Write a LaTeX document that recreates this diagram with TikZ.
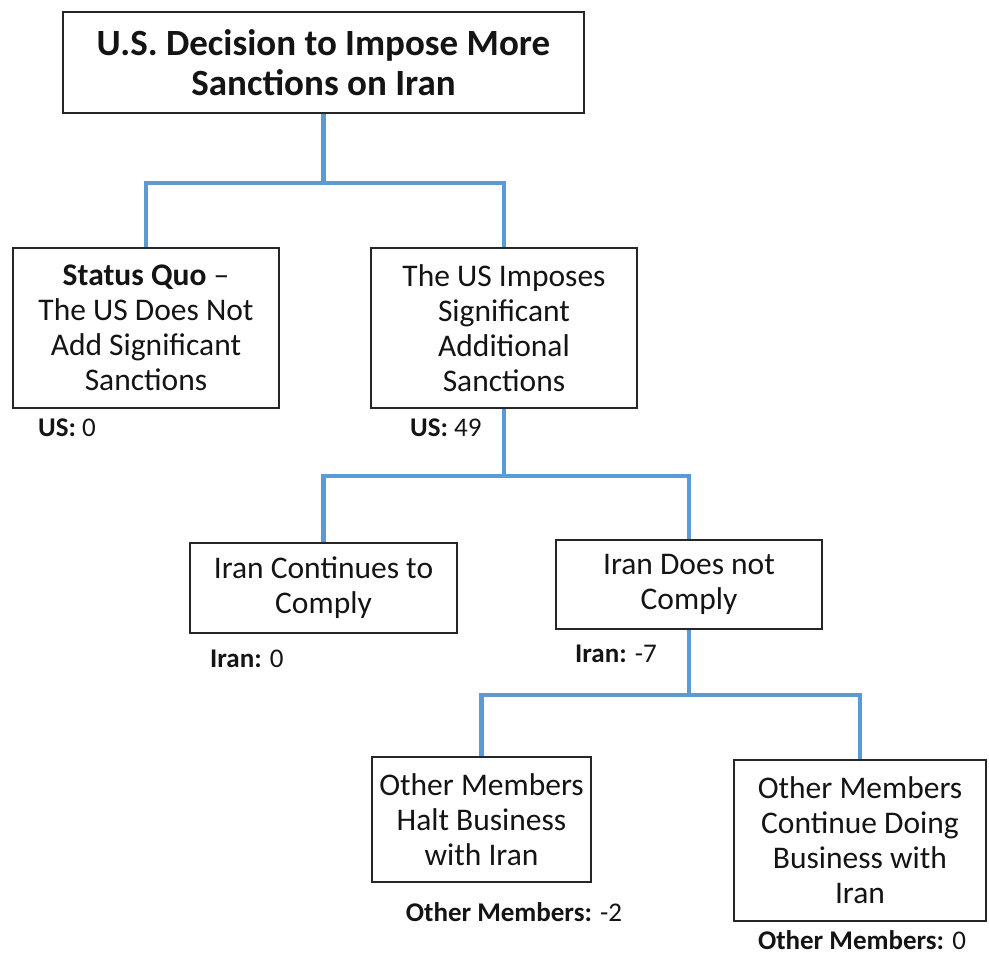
\documentclass[tikz,border=0pt]{standalone}
\usepackage{fontspec}
\setmainfont{Carlito}
\definecolor{connblue}{RGB}{91,155,213}
\definecolor{txt}{RGB}{20,20,20}
\begin{document}
\begin{tikzpicture}[x=1pt,y=-1pt,
  box/.style={draw=black!85,line width=1.6pt,rectangle,inner sep=0pt,align=center,text=txt,font=\fontsize{31.5}{35}\selectfont},
  conn/.style={draw=connblue,line width=4.5pt},
  payoff/.style={inner sep=0pt,text=txt,font=\fontsize{27}{30}\selectfont}]
\useasboundingbox (0,0) rectangle (989,955);
\node[box,minimum width=521pt,minimum height=101pt,font=\fontsize{37}{40}\selectfont\bfseries] (top) at (323.5,62.5) {U.S. Decision to Impose More\\Sanctions on Iran};
\node[box,minimum width=266pt,minimum height=160pt] (sq) at (146,328) {\textbf{Status Quo} --\\The US Does Not\\Add Significant\\Sanctions};
\node[box,minimum width=266pt,minimum height=160pt] (us) at (504,328) {The US Imposes\\Significant\\Additional\\Sanctions};
\node[box,minimum width=267pt,minimum height=90pt] (ic) at (323.5,588) {Iran Continues to\\Comply};
\node[box,minimum width=266pt,minimum height=89pt] (in) at (689,584.5) {Iran Does not\\Comply};
\node[box,minimum width=219pt,minimum height=125pt] (oh) at (481.5,819.5) {Other Members\\Halt Business\\with Iran};
\node[box,minimum width=252pt,minimum height=161pt] (oc) at (860,840.5) {Other Members\\Continue Doing\\Business with\\Iran};
\node[payoff,anchor=west] (p1) at (38,428) {\textbf{US:} 0};
\node[payoff,anchor=west] (p2) at (410,428) {\textbf{US:} 49};
\node[payoff,anchor=west] (p3) at (210,659) {\textbf{Iran:} 0};
\node[payoff,anchor=west] (p4) at (575,654) {\textbf{Iran:} -7};
\node[payoff] (p5) at (514,912) {\textbf{Other Members:} -2};
\node[payoff] (p6) at (862,940) {\textbf{Other Members:} 0};
\coordinate (b1) at (323.5,183);
\coordinate (b2) at (504,476);
\coordinate (b3) at (689,695);
\draw[conn] (top.south) -- (b1);
\draw[conn] (sq.north) |- (b1) -| (us.north);
\draw[conn] (us.south) -- (b2);
\draw[conn] (ic.north) |- (b2) -| (in.north);
\draw[conn] (in.south) -- (b3);
\draw[conn] (oh.north) |- (b3) -| (oc.north);
\end{tikzpicture}
\end{document}
